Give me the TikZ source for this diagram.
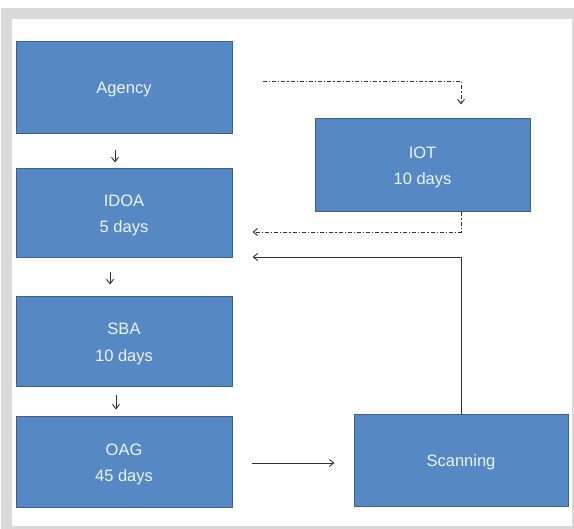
\documentclass[tikz,border=0pt]{standalone}
\usepackage{fontspec}
\setmainfont{Liberation Sans}
\usetikzlibrary{arrows.meta,calc}
\definecolor{boxfill}{RGB}{86,137,196}
\definecolor{boxline}{RGB}{62,96,140}
\definecolor{boxtext}{RGB}{238,243,250}
\definecolor{frame}{RGB}{217,217,217}
\definecolor{conn}{RGB}{50,50,50}
\begin{document}
\begin{tikzpicture}[x=1pt,y=-1pt,
  stagebox/.style={draw=boxline,fill=boxfill,line width=1pt,inner sep=0pt,
    align=center,text=boxtext,text depth=0pt,font=\fontsize{16.5}{26.5}\selectfont},
  conarrow/.style={draw=conn,line width=0.9pt,-{Straight Barb[length=4.5pt,width=7pt]}},
  dashdot/.style={dash pattern=on 4pt off 2pt on 1.2pt off 2pt}]
\useasboundingbox (0,0) rectangle (574,529);
\fill[white] (0,0) rectangle (574,529);
\fill[frame] (1,8) rectangle (574,529);
\fill[white] (12,19) rectangle (572,526);

\node[stagebox,minimum width=216pt,minimum height=92pt] (agency) at (124,88) {Agency};
\node[stagebox,minimum width=216pt,minimum height=89pt] (idoa) at (124,213.5) {IDOA\\5 days};
\node[stagebox,minimum width=216pt,minimum height=90pt] (sba) at (124,342) {SBA\\10 days};
\node[stagebox,minimum width=216pt,minimum height=91pt] (oag) at (124,462.5) {OAG\\45 days};
\node[stagebox,minimum width=215pt,minimum height=93pt] (iot) at (422.5,165.5) {IOT\\10 days};
\node[stagebox,minimum width=214pt,minimum height=92pt] (scan) at (461,461) {Scanning};

% vertical chain
\draw[conarrow,shorten <=16pt,shorten >=6pt] ([xshift=-9pt]agency.south) -- ([xshift=-9pt]agency.south |- idoa.north);
\draw[conarrow,shorten <=14pt,shorten >=12pt] ([xshift=-14pt]idoa.south) -- ([xshift=-14pt]idoa.south |- sba.north);
\draw[conarrow,shorten <=8pt,shorten >=7pt] ([xshift=-8pt]sba.south) -- ([xshift=-8pt]sba.south |- oag.north);

% OAG -> Scanning
\draw[conarrow,shorten <=19pt,shorten >=19pt] (oag.east |- 0,463) -- (scan.west |- 0,463);

% Scanning -> IDOA (solid)
\coordinate (sturn) at (scan.north |- 0,257);
\draw[conarrow,shorten >=20pt] (scan.north) -- (sturn) -- (idoa.east |- sturn);

% Agency -> IOT (dash-dot)
\coordinate (dstart) at (263,81);
\coordinate (dturn) at (scan.north |- dstart);
\draw[conarrow,dashdot,shorten >=14pt] (dstart) -- (dturn) -- (dturn |- iot.north);

% IOT -> IDOA (dash-dot)
\coordinate (iturn) at (scan.north |- 0,232);
\draw[conarrow,dashdot,shorten >=20pt] (iturn |- iot.south) -- (iturn) -- (idoa.east |- iturn);
\end{tikzpicture}
\end{document}
